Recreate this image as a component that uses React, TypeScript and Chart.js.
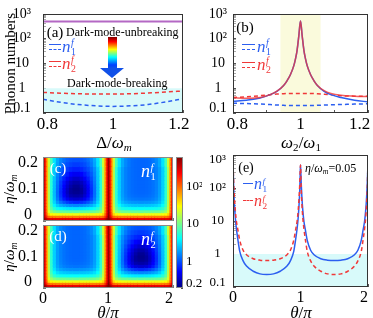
import React, { useEffect, useRef } from 'react';
import { Chart, registerables } from 'chart.js';

Chart.register(...registerables);

const SERIF = "'Liberation Serif', 'Times New Roman', Times, serif";
const BLUE = '#2c5ff0';
const RED = '#f03838';
const RED_SOFT = 'rgba(240,56,56,0.8)';
const PURPLE = '#b468c4';
const CYAN_FILL = 'rgb(216, 250, 250)';
const YELLOW_FILL = 'rgb(250, 250, 220)';
const EN = '\u2002';
const EM = '\u2003';

// ---------------- panel (a)
const deltaA = [0.8, 0.85, 0.9, 0.95, 1.0, 1.05, 1.1, 1.15, 1.2];
const aN1 = [0.36, 0.27, 0.22, 0.195, 0.185, 0.195, 0.22, 0.28, 0.38];
const aN2 = [0.68, 0.63, 0.6, 0.58, 0.58, 0.6, 0.64, 0.7, 0.78];
const aUnbroken = [500, 500, 500, 500, 500, 500, 500, 500, 500];
const aShadeX = [0.8, 1.2];
const aShadeY = [1, 1];
const aXTicks = [0.8, 0.9, 1.0, 1.1, 1.2];
const aXLabels = [EN + '0.8', '', '1', '', '1.2' + EN];
const bXLabels = [EN + '0.8', '', '1', '', '1.2' + EM];

// ---------------- panel (b)
const ratioB = [0.8, 0.84, 0.88, 0.91, 0.93, 0.95, 0.96, 0.97, 0.98, 0.985, 0.99, 0.995, 1.0, 1.005, 1.01, 1.015, 1.02, 1.03, 1.04, 1.05, 1.07, 1.09, 1.12, 1.16, 1.2];
const bN1Solid = [0.3, 0.33, 0.4, 0.55, 0.75, 1.3, 2.0, 3.5, 8, 15, 35, 130, 520, 130, 35, 15, 8, 3.5, 2.0, 1.3, 0.75, 0.55, 0.42, 0.33, 0.28];
const bN2Solid = [0.42, 0.39, 0.42, 0.55, 0.76, 1.3, 2.0, 3.5, 8, 15, 35, 130, 520, 130, 35, 15, 8, 3.5, 2.0, 1.3, 0.8, 0.62, 0.52, 0.48, 0.46];
const bN1Dash = [0.25, 0.24, 0.23, 0.22, 0.21, 0.205, 0.2, 0.2, 0.2, 0.2, 0.2, 0.2, 0.2, 0.2, 0.2, 0.2, 0.2, 0.2, 0.2, 0.205, 0.21, 0.215, 0.22, 0.23, 0.235];
const bN2Dash = [0.42, 0.45, 0.5, 0.55, 0.58, 0.6, 0.61, 0.62, 0.62, 0.62, 0.62, 0.62, 0.62, 0.62, 0.62, 0.62, 0.62, 0.62, 0.61, 0.6, 0.57, 0.54, 0.5, 0.48, 0.47];
const bShadeX = [0.94, 1.06];
const bShadeY = [1000, 1000];

// ---------------- panel (e)
const thetaE = [0, 0.005, 0.01, 0.02, 0.035, 0.05, 0.075, 0.1, 0.15, 0.2, 0.3, 0.4, 0.5, 0.6, 0.7, 0.8, 0.85, 0.9, 0.925, 0.95, 0.965, 0.98, 0.99, 0.995,
  1.0, 1.005, 1.01, 1.02, 1.035, 1.05, 1.075, 1.1, 1.15, 1.2, 1.3, 1.4, 1.5, 1.6, 1.7, 1.8, 1.85, 1.9, 1.925, 1.95, 1.965, 1.98, 1.99, 1.995, 2.0];
const eN1 = [500, 250, 100, 35, 12, 6, 2.5, 1.2, 0.62, 0.43, 0.3, 0.25, 0.24, 0.25, 0.3, 0.43, 0.62, 1.2, 2.5, 6, 12, 35, 100, 250,
  500, 300, 150, 55, 20, 10, 5, 2.6, 1.3, 0.95, 0.72, 0.65, 0.63, 0.65, 0.72, 0.95, 1.3, 2.6, 5, 10, 20, 55, 150, 300, 500];
const eN2 = [500, 300, 150, 55, 20, 10, 5, 2.6, 1.3, 0.95, 0.72, 0.65, 0.63, 0.65, 0.72, 0.95, 1.3, 2.6, 5, 10, 20, 55, 150, 300,
  500, 250, 100, 35, 12, 6, 2.5, 1.2, 0.62, 0.43, 0.3, 0.25, 0.24, 0.25, 0.3, 0.43, 0.62, 1.2, 2.5, 6, 12, 35, 100, 250, 500];
const eShadeX = [0, 2];
const eShadeY = [1, 1];
const thetaTicks = [0, 0.5, 1, 1.5, 2];
const thetaLabels = ['0', '', '1', '', '2' + EN];

// ---------------- log axis ticks
const logTicks = [0.1, 0.2, 0.3, 0.4, 0.5, 0.6, 0.7, 0.8, 0.9, 1, 2, 3, 4, 5, 6, 7, 8, 9, 10, 20, 30, 40, 50, 60, 70, 80, 90,
  100, 200, 300, 400, 500, 600, 700, 800, 900, 1000];
const logLabelsAB: Record<string, any> = { '0.1': ['0.1', ''], '1': '1', '10': '10', '100': '10²', '1000': '10³' };
const logLabelsE: Record<string, any> = { '0.1': ['0.1', ''], '1': '1', '10': '10', '100': '10²', '1000': ['', '10³'] };

// ---------------- heat maps (c), (d)
// theta cell edges over one lobe (0..1) and eta cell edges (0..0.2)
const lobeThetaEdges = [0, 0.012, 0.027, 0.045, 0.07, 0.1, 0.14, 0.19, 0.24, 0.29, 0.34, 0.39, 0.445, 0.5,
  0.555, 0.61, 0.66, 0.71, 0.76, 0.81, 0.86, 0.9, 0.93, 0.955, 0.973, 0.988, 1.0];
const etaEdges = [0, 0.005, 0.011, 0.018, 0.026, 0.035, 0.045, 0.055, 0.065, 0.075, 0.085, 0.095, 0.105, 0.115, 0.127, 0.14, 0.155, 0.17, 0.185, 0.2];
// phonon numbers over the left half of one lobe (each lobe is mirror-symmetric); rows: eta ascending
const darkLobeHalf = [
  [1100, 850, 750, 650, 615, 606, 603, 602, 601, 601, 601, 601, 601],
  [750, 500, 400, 300, 265, 256, 253, 252, 251, 251, 251, 251, 251],
  [580, 330, 230, 130, 95, 86, 83, 82, 81.5, 81.3, 81.3, 81.2, 81.2],
  [525, 275, 175, 75, 40, 31, 28, 27, 26.5, 26.3, 26.3, 26.2, 26.2],
  [510, 260, 160, 59, 23, 13.5, 10.55, 9.49, 9.02, 8.75, 8.58, 8.48, 8.42],
  [505, 255, 155, 54, 18, 8.5, 5.5, 4.42, 3.94, 3.66, 3.49, 3.39, 3.33],
  [503, 253, 153, 52, 16.5, 6.77, 3.75, 2.67, 2.17, 1.89, 1.72, 1.62, 1.57],
  [502, 252, 152, 52, 15.7, 5.94, 2.91, 1.81, 1.32, 1.04, 0.87, 0.78, 0.735],
  [501, 251, 151, 51, 15.4, 5.56, 2.53, 1.43, 0.93, 0.645, 0.49, 0.4, 0.37],
  [501, 251, 151, 51, 15.3, 5.45, 2.42, 1.31, 0.81, 0.535, 0.375, 0.29, 0.27],
  [501, 251, 151, 51, 15.2, 5.41, 2.38, 1.27, 0.77, 0.495, 0.335, 0.25, 0.23],
  [500, 250, 150, 51, 15.2, 5.41, 2.38, 1.28, 0.78, 0.495, 0.34, 0.25, 0.22],
  [500, 250, 150, 51, 15.2, 5.44, 2.41, 1.31, 0.82, 0.54, 0.37, 0.28, 0.235],
  [500, 250, 150, 51, 15.2, 5.47, 2.45, 1.37, 0.87, 0.6, 0.42, 0.325, 0.28],
  [500, 250, 150, 51, 15.2, 5.52, 2.52, 1.44, 0.97, 0.69, 0.52, 0.42, 0.36],
  [500, 250, 150, 51, 15.2, 5.57, 2.59, 1.54, 1.09, 0.83, 0.66, 0.55, 0.49],
  [500, 250, 150, 51, 15.2, 5.65, 2.68, 1.65, 1.22, 0.98, 0.84, 0.74, 0.69],
  [500, 250, 150, 52, 19.4, 7.05, 3.27, 1.95, 1.43, 1.16, 0.99, 0.91, 0.86],
  [500, 250, 150, 52, 19.4, 7.05, 3.28, 2.05, 1.54, 1.29, 1.13, 1.06, 1.03],
];
const lightLobeHalf = [
  [1100, 850, 750, 650, 615, 606, 603, 602, 601, 601, 601, 601, 601],
  [750, 500, 400, 300, 265, 256, 253, 252, 251, 251, 251, 251, 251],
  [580, 330, 230, 130, 95, 86, 83, 82, 81.5, 81.3, 81.3, 81.2, 81.2],
  [525, 275, 175, 75, 40, 31, 28, 27, 26.5, 26.3, 26.3, 26.2, 26.2],
  [510, 260, 160, 59, 23, 13.7, 10.8, 9.85, 9.5, 9.34, 9.26, 9.22, 9.2],
  [505, 255, 155, 54, 18, 8.7, 5.8, 4.85, 4.5, 4.34, 4.26, 4.22, 4.2],
  [503, 253, 153, 52, 16.5, 7.0, 4.1, 3.15, 2.8, 2.64, 2.56, 2.52, 2.5],
  [502, 252, 152, 52, 15.7, 6.2, 3.3, 2.35, 2.0, 1.84, 1.76, 1.72, 1.7],
  [501, 251, 151, 51, 15.4, 5.85, 2.95, 2.0, 1.65, 1.49, 1.41, 1.37, 1.35],
  [501, 251, 151, 51, 15.3, 5.75, 2.85, 1.9, 1.55, 1.39, 1.31, 1.27, 1.25],
  [501, 251, 151, 51, 15.2, 5.7, 2.81, 1.86, 1.51, 1.35, 1.27, 1.23, 1.21],
  [500, 250, 150, 51, 15.2, 5.7, 2.8, 1.85, 1.5, 1.34, 1.26, 1.22, 1.2],
  [500, 250, 150, 51, 15.2, 5.7, 2.8, 1.85, 1.5, 1.34, 1.26, 1.22, 1.2],
  [500, 250, 150, 51, 15.2, 5.7, 2.8, 1.85, 1.5, 1.34, 1.26, 1.22, 1.2],
  [500, 250, 150, 51, 15.2, 5.7, 2.8, 1.85, 1.5, 1.34, 1.26, 1.22, 1.2],
  [500, 250, 150, 51, 15.2, 5.7, 2.8, 1.85, 1.5, 1.34, 1.26, 1.22, 1.2],
  [500, 250, 150, 51, 15.2, 5.7, 2.8, 1.85, 1.5, 1.34, 1.26, 1.22, 1.2],
  [500, 250, 150, 52, 19.4, 7.05, 3.28, 2.05, 1.59, 1.38, 1.26, 1.22, 1.2],
  [500, 250, 150, 52, 19.4, 7.05, 3.28, 2.05, 1.59, 1.38, 1.26, 1.22, 1.2],
];
const fullLobe = (half: number[][]) => half.map((r) => r.concat([...r].reverse()));
const lobeDark = fullLobe(darkLobeHalf);
const lobeLight = fullLobe(lightLobeHalf);
const gridC = lobeDark.map((row, i) => row.concat(lobeLight[i]));
const gridD = lobeLight.map((row, i) => row.concat(lobeDark[i]));
const thetaEdges = lobeThetaEdges.concat(lobeThetaEdges.slice(1).map((e) => 1 + e));
const etaTicks = [0, 0.05, 0.1, 0.15, 0.2];
const etaLabels: any[] = [['0', ''], '', '0.1', '', ['', '0.2']];

// ---------------- colour bar
const cbRange = [0.2, 600];
const cbTicks = [0.2, 1, 10, 100];
const cbLabels: any[] = [['0.2', ''], '1', '10', '10²'];

// ---------------- helpers
function jet(f: number) {
  const t = Math.max(0, Math.min(1, f));
  const c = (x: number) => Math.round(255 * Math.max(0, Math.min(1, x)));
  return `rgb(${c(1.5 - Math.abs(4 * t - 3))},${c(1.5 - Math.abs(4 * t - 2))},${c(1.5 - Math.abs(4 * t - 1))})`;
}
function colorFor(n: number) {
  const lo = Math.log10(cbRange[0]);
  const hi = Math.log10(cbRange[1]);
  return jet((Math.log10(n) - lo) / (hi - lo));
}
const pts = (xs: number[], ys: number[]) => xs.map((x, i) => ({ x, y: ys[i] }));

const framePlugin = {
  id: 'frame',
  afterDraw(chart: any, _a: any, opts: any) {
    const { ctx, chartArea } = chart;
    if (!chartArea) return;
    ctx.save();
    ctx.strokeStyle = opts.color || '#333';
    ctx.lineWidth = 1;
    ctx.strokeRect(Math.round(chartArea.left) + 0.5, Math.round(chartArea.top) + 0.5,
      Math.round(chartArea.right - chartArea.left) - 1, Math.round(chartArea.bottom - chartArea.top) - 1);
    ctx.restore();
  },
};

function lineDs(xs: number[], ys: number[], color: string, dashed: boolean, order: number, width = 1.5) {
  return {
    data: pts(xs, ys), borderColor: color, borderWidth: width, borderDash: dashed ? [4, 3] : [],
    pointRadius: 0, fill: false, cubicInterpolationMode: 'monotone', order,
  };
}
function bandDs(xs: number[], ys: number[], color: string) {
  return { data: pts(xs, ys), borderWidth: 0, borderColor: 'rgba(0,0,0,0)', backgroundColor: color, pointRadius: 0, fill: 'start', order: 100 };
}

const baseOptions = (padding: any) => ({
  responsive: false, maintainAspectRatio: false, animation: false, devicePixelRatio: 1, events: [],
  layout: { padding },
});

function makeLinePanel(p: any) {
  return {
    type: 'line',
    data: { datasets: p.datasets },
    options: {
      ...baseOptions(p.padding),
      plugins: { legend: { display: false }, tooltip: { enabled: false }, filler: { drawTime: 'beforeDatasetsDraw' }, frame: { color: '#333' } },
      scales: {
        x: {
          type: 'linear', min: p.xMin, max: p.xMax,
          afterBuildTicks: (s: any) => { s.ticks = p.xTicks.map((v: number) => ({ value: v })); },
          afterFit: (s: any) => { s.height = p.xHeight; s.paddingLeft = 0; s.paddingRight = 0; },
          ticks: { autoSkip: false, maxRotation: 0, padding: 4, color: '#000', font: { family: SERIF, size: p.xFont }, callback: (_v: any, i: number) => p.xLabels[i] },
          grid: { drawOnChartArea: false, tickLength: -3, color: '#555' },
          border: { display: false }, z: 1,
        },
        y: {
          type: 'logarithmic', min: 0.1, max: 1000,
          afterBuildTicks: (s: any) => { s.ticks = logTicks.map((v) => ({ value: v })); },
          afterFit: (s: any) => { s.width = p.yWidth; s.paddingTop = 0; s.paddingBottom = 0; },
          ticks: {
            autoSkip: false, crossAlign: 'center', padding: p.yPad, color: '#000',
            font: { family: SERIF, size: p.yFont, lineHeight: 0.7 },
            callback: (v: any) => p.yLabels[String(v)] ?? '',
          },
          grid: {
            drawOnChartArea: false, tickLength: -3,
            color: (c: any) => (c.tick && p.yLabels[String(c.tick.value)] !== undefined ? '#555' : '#aaa'),
          },
          border: { display: false }, z: 1,
          title: p.yTitle
            ? { display: true, text: p.yTitle, color: '#000', font: { family: SERIF, size: 15 }, padding: { top: 2, bottom: 0 } }
            : { display: false },
        },
      },
    },
    plugins: [framePlugin],
  };
}

function makeA() {
  return makeLinePanel({
    datasets: [
      bandDs(aShadeX, aShadeY, CYAN_FILL),
      lineDs(deltaA, aUnbroken, PURPLE, false, 3, 2),
      lineDs(deltaA, aN1, BLUE, true, 2),
      lineDs(deltaA, aN2, RED, true, 1),
    ],
    padding: { top: 14, right: 9, left: 0, bottom: 0 },
    xMin: 0.8, xMax: 1.2, xTicks: aXTicks, xLabels: aXLabels, xHeight: 39, xFont: 17,
    yWidth: 43, yPad: 15, yFont: 14, yLabels: logLabelsAB, yTitle: 'Phonon numbers',
  });
}
function makeB() {
  return makeLinePanel({
    datasets: [
      bandDs(bShadeX, bShadeY, YELLOW_FILL),
      lineDs(ratioB, bN1Dash, BLUE, true, 4),
      lineDs(ratioB, bN2Dash, RED, true, 3),
      lineDs(ratioB, bN1Solid, BLUE, false, 2),
      lineDs(ratioB, bN2Solid, RED_SOFT, false, 1),
    ],
    padding: { top: 14, right: 5, left: 0, bottom: 0 },
    xMin: 0.8, xMax: 1.2, xTicks: aXTicks, xLabels: bXLabels, xHeight: 39, xFont: 17,
    yWidth: 41, yPad: 9, yFont: 14, yLabels: logLabelsAB,
  });
}
function makeE() {
  return makeLinePanel({
    datasets: [
      bandDs(eShadeX, eShadeY, CYAN_FILL),
      lineDs(thetaE, eN1, BLUE, false, 2),
      lineDs(thetaE, eN2, RED, true, 1),
    ],
    padding: { top: 15, right: 5, left: 0, bottom: 0 },
    xMin: 0, xMax: 2, xTicks: thetaTicks, xLabels: thetaLabels, xHeight: 31, xFont: 16,
    yWidth: 41, yPad: 10, yFont: 13, yLabels: logLabelsE,
  });
}

function makeHeat(grid: number[][], showX: boolean, padTop: number, xHeight: number) {
  const centers: number[] = [];
  const widths: number[] = [];
  for (let j = 0; j < thetaEdges.length - 1; j++) {
    centers.push((thetaEdges[j] + thetaEdges[j + 1]) / 2);
    widths.push(thetaEdges[j + 1] - thetaEdges[j]);
  }
  let minGap = Infinity;
  for (let j = 0; j < centers.length - 1; j++) minGap = Math.min(minGap, centers[j + 1] - centers[j]);
  const rows = etaEdges.length - 1;
  const datasets = centers.map((c, j) => ({
    data: Array.from({ length: rows }, (_, i) => ({ x: c, y: [etaEdges[i], etaEdges[i + 1]] })),
    backgroundColor: Array.from({ length: rows }, (_, i) => colorFor(grid[i][j])),
    borderWidth: 0, grouped: false, categoryPercentage: 1, barPercentage: widths[j] / minGap, inflateAmount: 0.5,
  }));
  return {
    type: 'bar',
    data: { datasets },
    options: {
      ...baseOptions({ top: padTop, right: 3, left: 0, bottom: 0 }),
      plugins: { legend: { display: false }, tooltip: { enabled: false }, frame: { color: '#8a8a8a' } },
      scales: {
        x: {
          type: 'linear', min: 0, max: 2, offset: false,
          afterBuildTicks: (s: any) => { s.ticks = thetaTicks.map((v) => ({ value: v })); },
          afterFit: (s: any) => { s.height = xHeight; s.paddingLeft = 0; s.paddingRight = 0; },
          ticks: { display: showX, autoSkip: false, maxRotation: 0, padding: 4, color: '#000', font: { family: SERIF, size: 16 }, callback: (_v: any, i: number) => thetaLabels[i] },
          grid: { offset: false, drawOnChartArea: false, tickLength: -3, color: '#777' },
          border: { display: false }, z: 1,
        },
        y: {
          type: 'linear', min: 0, max: 0.2,
          afterBuildTicks: (s: any) => { s.ticks = etaTicks.map((v) => ({ value: v })); },
          afterFit: (s: any) => { s.width = 43; s.paddingTop = 0; s.paddingBottom = 0; },
          ticks: { autoSkip: false, crossAlign: 'center', padding: 8, color: '#000', font: { family: SERIF, size: 16, lineHeight: 0.75 }, callback: (_v: any, i: number) => etaLabels[i] },
          grid: { drawOnChartArea: false, tickLength: -3, color: '#777' },
          border: { display: false }, z: 1,
        },
      },
    },
    plugins: [framePlugin],
  };
}

function makeColorbar() {
  return {
    type: 'bar',
    data: {
      labels: ['colour'],
      datasets: [{
        data: [cbRange],
        backgroundColor: (c: any) => {
          const ca = c.chart.chartArea;
          if (!ca) return jet(0.5);
          const g = c.chart.ctx.createLinearGradient(0, ca.bottom, 0, ca.top);
          for (let k = 0; k <= 16; k++) g.addColorStop(k / 16, jet(k / 16));
          return g;
        },
        borderWidth: 0, barPercentage: 1, categoryPercentage: 1,
      }],
    },
    options: {
      ...baseOptions({ top: 12, right: 0, left: 6, bottom: 7 }),
      plugins: { legend: { display: false }, tooltip: { enabled: false }, frame: { color: '#8a8a8a' } },
      scales: {
        x: { display: false },
        y: {
          type: 'logarithmic', position: 'right', min: cbRange[0], max: cbRange[1],
          afterBuildTicks: (s: any) => { s.ticks = cbTicks.map((v) => ({ value: v })); },
          afterFit: (s: any) => { s.width = 19; s.paddingTop = 0; s.paddingBottom = 0; },
          ticks: { autoSkip: false, crossAlign: 'near', padding: 5, color: '#000', font: { family: SERIF, size: 13, lineHeight: 0.7 }, callback: (_v: any, i: number) => cbLabels[i] },
          grid: { drawOnChartArea: false, tickLength: -2, color: '#555' },
          border: { display: false }, z: 1,
        },
      },
    },
    plugins: [framePlugin],
  };
}

function ChartCanvas({ left, top, width, height, make }: any) {
  const ref = useRef<HTMLCanvasElement | null>(null);
  useEffect(() => {
    if (!ref.current) return;
    const chart = new Chart(ref.current, make());
    return () => chart.destroy();
  }, []);
  return <canvas ref={ref} width={width} height={height} style={{ position: 'absolute', left, top, width, height }} />;
}

// ---------------- text overlays
const Txt = ({ x, y, size = 15, color = '#000', align = 'center', rotate = false, children }: any) => (
  <div style={{
    position: 'absolute', left: x, top: y,
    transform: `translate(${align === 'left' ? '0' : '-50%'}, -50%)${rotate ? ' rotate(-90deg)' : ''}`,
    fontSize: size, color, whiteSpace: 'nowrap', lineHeight: 1, fontFamily: SERIF,
  }}>{children}</div>
);
const Sub = ({ children }: any) => <span style={{ fontSize: '0.65em', position: 'relative', top: '0.3em' }}>{children}</span>;
const Nf = ({ i, color, size }: any) => (
  <span style={{ color, fontSize: size, display: 'inline-flex', alignItems: 'center', fontFamily: SERIF }}>
    <i>n</i>
    <span style={{ display: 'inline-flex', flexDirection: 'column', fontSize: '0.58em', lineHeight: 0.9, marginLeft: '0.05em', marginTop: '0.2em' }}>
      <i>f</i><span>{i}</span>
    </span>
  </span>
);
const LegLine = ({ x, y, w, color, dashed }: any) => (
  <div style={{ position: 'absolute', left: x, top: y, width: w, height: 0, borderTop: `1.5px ${dashed ? 'dashed' : 'solid'} ${color}` }} />
);
const EtaOm = () => (<span><i>η</i>/<i>ω</i><Sub><i>m</i></Sub></span>);

export default function App() {
  return (
    <div style={{ position: 'absolute', left: 0, top: 0, width: 373, height: 318, overflow: 'hidden', background: '#fff', fontFamily: SERIF, color: '#000' }}>
      <ChartCanvas left={0} top={0} width={192} height={152} make={makeA} />
      <ChartCanvas left={192} top={0} width={181} height={152} make={makeB} />
      <ChartCanvas left={0} top={145} width={176} height={80} make={() => makeHeat(gridC, false, 12, 4)} />
      <ChartCanvas left={0} top={215} width={176} height={103} make={() => makeHeat(gridD, true, 10, 30)} />
      <ChartCanvas left={170} top={145} width={32} height={150} make={makeColorbar} />
      <ChartCanvas left={192} top={140} width={181} height={178} make={makeE} />

      {/* (a) */}
      <Txt x={55} y={32} size={15}>(a)</Txt>
      <Txt x={66} y={32} size={12} align="left">Dark-mode-unbreaking</Txt>
      <div style={{ position: 'absolute', left: 108, top: 37, width: 9, height: 31, background: 'linear-gradient(to bottom, #800000, #ff0000 15%, #ffff00 40%, #00ffff 65%, #0040ff 90%, #1050e8)' }} />
      <div style={{ position: 'absolute', left: 100, top: 68, width: 0, height: 0, borderLeft: '12.5px solid transparent', borderRight: '12.5px solid transparent', borderTop: '10px solid #1050e8' }} />
      <Txt x={67} y={83} size={12} align="left">Dark-mode-breaking</Txt>
      <LegLine x={49} y={44} w={12} color={BLUE} />
      <LegLine x={49} y={49} w={12} color={BLUE} dashed />
      <Txt x={62} y={47} align="left"><Nf i={1} color={BLUE} size={17} /></Txt>
      <LegLine x={49} y={61} w={12} color={RED} />
      <LegLine x={49} y={66} w={12} color={RED} dashed />
      <Txt x={62} y={64} align="left"><Nf i={2} color={RED} size={17} /></Txt>
      <Txt x={114} y={142} size={17}>Δ/<i>ω</i><Sub><i>m</i></Sub></Txt>

      {/* (b) */}
      <Txt x={245} y={27} size={15}>(b)</Txt>
      <LegLine x={242} y={44} w={13} color={BLUE} />
      <LegLine x={242} y={49} w={13} color={BLUE} dashed />
      <Txt x={257} y={47} align="left"><Nf i={1} color={BLUE} size={17} /></Txt>
      <LegLine x={242} y={62} w={13} color={RED} />
      <LegLine x={242} y={67} w={13} color={RED} dashed />
      <Txt x={257} y={65} align="left"><Nf i={2} color={RED} size={17} /></Txt>
      <Txt x={301} y={142} size={17}><i>ω</i><Sub>2</Sub>/<i>ω</i><Sub>1</Sub></Txt>

      {/* (c), (d) */}
      <Txt x={58} y={168} size={15} color="#fff">(c)</Txt>
      <Txt x={141} y={171} align="left"><Nf i={1} color="#fff" size={18} /></Txt>
      <Txt x={9} y={189} size={15} rotate><EtaOm /></Txt>
      <Txt x={58} y={236} size={15} color="#fff">(d)</Txt>
      <Txt x={141} y={239} align="left"><Nf i={2} color="#fff" size={18} /></Txt>
      <Txt x={9} y={257} size={15} rotate><EtaOm /></Txt>
      <Txt x={108} y={312} size={17}><i>θ</i>/<i>π</i></Txt>

      {/* (e) */}
      <Txt x={246} y={168} size={14}>(e)</Txt>
      <Txt x={305} y={168} size={12} align="left"><EtaOm />=0.05</Txt>
      <LegLine x={243} y={183} w={10} color={BLUE} />
      <Txt x={254} y={184} align="left"><Nf i={1} color={BLUE} size={16} /></Txt>
      <LegLine x={243} y={200} w={10} color={RED} dashed />
      <Txt x={254} y={201} align="left"><Nf i={2} color={RED} size={16} /></Txt>
      <Txt x={301} y={312} size={17}><i>θ</i>/<i>π</i></Txt>
    </div>
  );
}
